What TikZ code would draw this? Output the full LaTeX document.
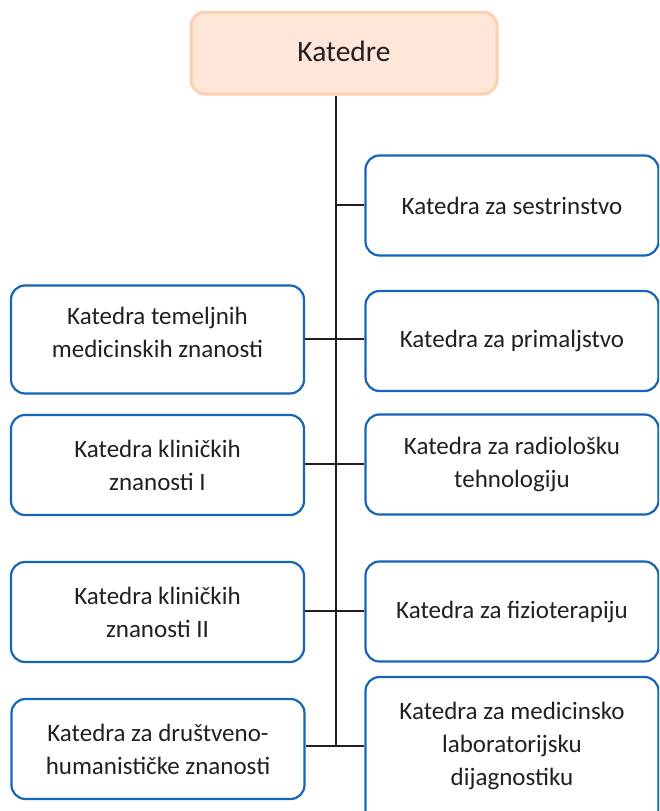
\documentclass[tikz,border=0pt]{standalone}
\usepackage{fontspec}
\setmainfont{Carlito}
\definecolor{bl}{HTML}{1565B8}
\definecolor{pk}{HTML}{FDE5D8}
\definecolor{pkb}{HTML}{FBCFB3}
\definecolor{tx}{HTML}{231F20}
\tikzset{
  x=1pt,y=-1pt,
  dept/.style={draw=bl,line width=2.2pt,rounded corners=14pt,fill=white,
    minimum width=293pt,minimum height=100pt,align=center,text=tx,
    font=\fontsize{25}{33}\selectfont,inner sep=0pt},
  dtext/.style={align=center,text=tx,font=\fontsize{25}{33}\selectfont,inner sep=0pt},
  rootbox/.style={draw=pkb,fill=pk,line width=3pt,rounded corners=14pt,
    minimum width=306pt,minimum height=82pt,text=tx,
    font=\fontsize{29.5}{33}\selectfont,inner sep=0pt},
  conn/.style={draw=tx,line width=1.4pt}
}
\begin{document}
\begin{tikzpicture}
\useasboundingbox (0,0) rectangle (659,811);
\clip (0,0) rectangle (659,811);
\node[rootbox] (root) at (344,53) {};
\node[text=tx,font=\fontsize{29.5}{33}\selectfont,inner sep=0pt] (roott) at (344,51) {Katedre};
\coordinate (bot) at (336,746);
\coordinate (j1) at (336,205);
\coordinate (j2) at (336,339);
\coordinate (j3) at (336,464);
\coordinate (j4) at (336,611);
\draw[conn] (root.south -| bot) -- (bot);
\node[dept] (r1) at (512,205.5) {Katedra za sestrinstvo};
\node[dept] (r2) at (512,341) {Katedra za primaljstvo};
\node[dept] (r3) at (512,464.5) {Katedra za radiološku\\tehnologiju};
\node[dept] (r4) at (512,611.5) {Katedra za fizioterapiju};
\node[dept,minimum height=148pt] (r5) at (512,751) {};
\node[dtext] (r5t) at (512,746) {Katedra za medicinsko\\laboratorijsku\\dijagnostiku};
\node[dept,minimum height=108pt] (l1) at (157.5,339.5) {};
\node[dtext] (l1t) at (157.5,332) {Katedra temeljnih\\medicinskih znanosti};
\node[dept] (l2) at (157.5,465) {Katedra kliničkih\\znanosti I};
\node[dept] (l3) at (157.5,612) {Katedra kliničkih\\znanosti II};
\node[dept] (l4) at (158,749) {Katedra za društveno-\\humanističke znanosti};
\draw[conn] (j1) -- (r1.west |- j1);
\draw[conn] (l1.east |- j2) -- (r2.west |- j2);
\draw[conn] (l2.east |- j3) -- (r3.west |- j3);
\draw[conn] (l3.east |- j4) -- (r4.west |- j4);
\draw[conn] (l4.east |- bot) -- (r5.west |- bot);
\end{tikzpicture}
\end{document}
